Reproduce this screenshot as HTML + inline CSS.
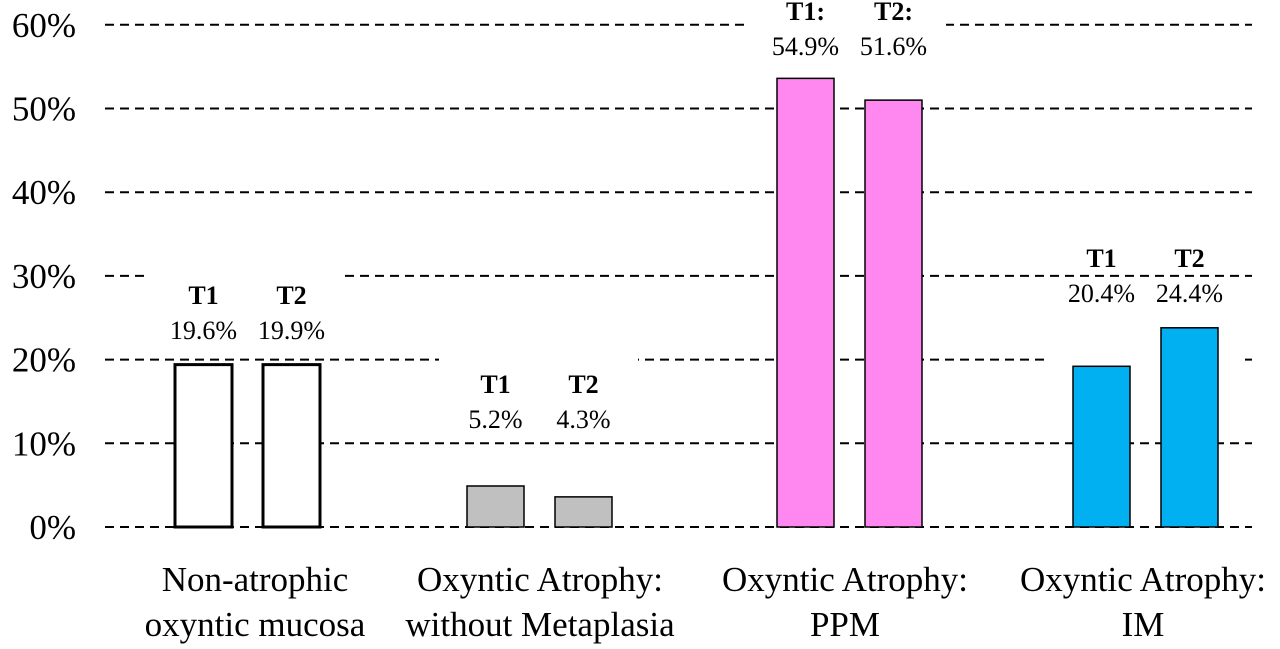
<!DOCTYPE html>
<html><head><meta charset="utf-8"><style>
html,body{margin:0;padding:0;background:#fff;}
svg{display:block;font-family:"Liberation Serif",serif;}
</style></head><body>
<svg id="chart" width="1280" height="649" viewBox="0 0 1280 649">
<g id="grid"></g>
<g id="masks"></g>
<g id="yticks"></g>
<g id="bars"></g>
<g id="labels"></g>
<g id="cats"></g>
</svg>
<script>
const yTicks = [0, 10, 20, 30, 40, 50, 60];
const categories = [["Non-atrophic","oxyntic mucosa"],["Oxyntic Atrophy:","without Metaplasia"],["Oxyntic Atrophy:","PPM"],["Oxyntic Atrophy:","IM"]];
const t1Values = [19.4, 4.9, 53.6, 19.2];
const t2Values = [19.4, 3.6, 51.0, 23.8];
const t1Labels = ["19.6%", "5.2%", "54.9%", "20.4%"];
const t2Labels = ["19.9%", "4.3%", "51.6%", "24.4%"];
const t1Names = ["T1", "T1", "T1:", "T1"];
const t2Names = ["T2", "T2", "T2:", "T2"];

const NS = "http://www.w3.org/2000/svg";
const fills = ["#ffffff", "#c0c0c0", "#ff88f0", "#00b0f0"];
const strokeW = [3, 1.5, 1.5, 1.5];
const y0 = 527, pxPer = 83.7;
function yScale(v){ return y0 - v * pxPer / 10; }
const groupStart = [175, 467, 777, 1073];
const pairGap = 88, barW = 57;
function xBar(g, s){ return groupStart[g] + s * pairGap; }
function catCenter(g){ return [255, 540, 845, 1143][g]; }
// label layout (pixel positions, not data)
const nameBase = [304, 393, 20, 267];
const maskBox = [[145,266,200,20],[439,349,199,20],[750,15,196,20],[1046,349,196,20]];
function mk(tag, attrs, parent){ const e = document.createElementNS(NS, tag); for (const k in attrs) e.setAttribute(k, attrs[k]); parent.appendChild(e); return e; }

const grid = document.getElementById('grid');
yTicks.forEach(t => {
  const l = mk('line', {x1:105, x2:1252, y1:yScale(t), y2:yScale(t), stroke:'#000', 'stroke-width':2, 'stroke-dasharray':'9,6'}, grid);
  
  
});
const yt = document.getElementById('yticks');
yTicks.forEach(t => {
  const tx = mk('text', {x:76, y:yScale(t)+12, 'font-size':35, 'text-anchor':'end'}, yt);
  tx.textContent = t + '%';
  
  
});
const masks = document.getElementById('masks');
maskBox.forEach(m => {
  const bg = mk('rect', {x:m[0], y:m[1], width:m[2], height:m[3], fill:'#fff'}, masks);
  
  
});
const bars = document.getElementById('bars');
[t1Values, t2Values].forEach((vals, s) => {
  vals.forEach((v, g) => {
    const r = mk('rect', {x:xBar(g, s), y:yScale(v), width:barW, height:y0 - yScale(v), fill:fills[g], stroke:'#000', 'stroke-width':strokeW[g]}, bars);
    
    
  });
});
const labels = document.getElementById('labels');
[[t1Names, t1Labels], [t2Names, t2Labels]].forEach((pair, s) => {
  pair[0].forEach((nm, g) => {
    const cx = xBar(g, s) + barW / 2;
    const nameY = nameBase[g];
    const valY = nameY + 35;
    const a = mk('text', {x:cx, y:nameY, 'font-size':26, 'font-weight':'bold', 'text-anchor':'middle'}, labels);
    a.textContent = nm;
    
    
    const b = mk('text', {x:cx, y:valY, 'font-size':26, 'text-anchor':'middle'}, labels);
    b.textContent = pair[1][g];
    
    
  });
});
const cats = document.getElementById('cats');
categories.forEach((c, g) => {
  c.forEach((line, i) => {
    const t = mk('text', {x:catCenter(g), y:591 + i * 45, 'font-size':35, 'text-anchor':'middle'}, cats);
    t.textContent = line;
    
    
  });
});
</script>
</body></html>
